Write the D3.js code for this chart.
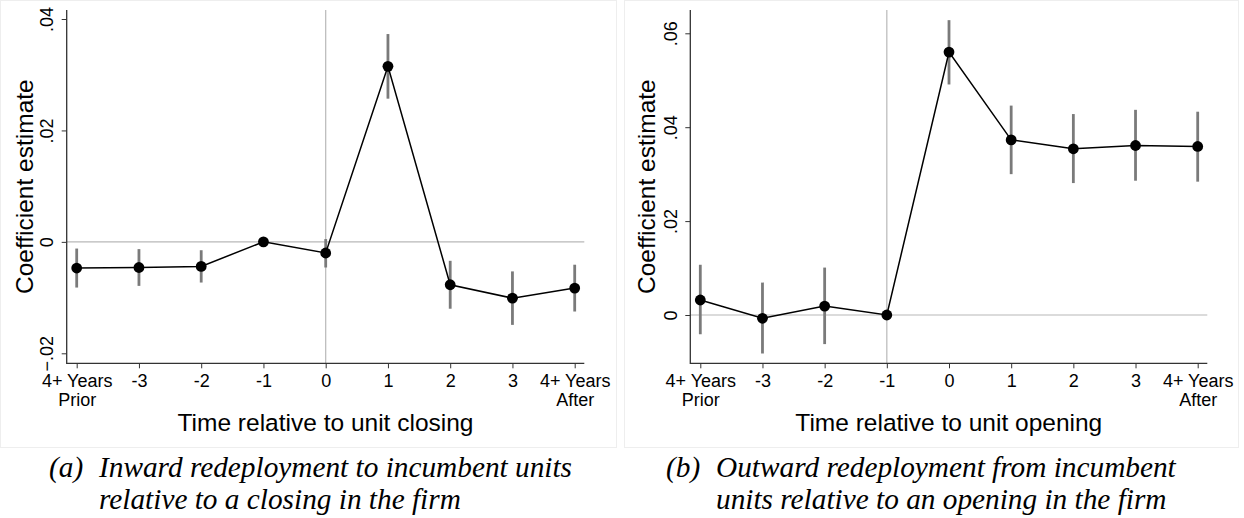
<!DOCTYPE html>
<html>
<head>
<meta charset="utf-8">
<script src="https://cdn.jsdelivr.net/npm/d3@7"></script>
<style>
  body { margin: 0; background: #fff; }
  svg { display: block; }
  .tick text { font-family: "Liberation Sans", Arial, sans-serif; fill: #000; }
</style>
</head>
<body>
<div id="container"></div>
<script>
// event-time categories (shared by both panels)
const categories = ["4+ Years|Prior", "-3", "-2", "-1", "0", "1", "2", "3", "4+ Years|After"];

// panel (a): closing
const closingEst = [-0.0047, -0.0046, -0.0044, 0, -0.0020, 0.0315, -0.0077, -0.0101, -0.0083];
const closingLo  = [-0.0082, -0.0079, -0.0073, null, -0.0046, 0.0257, -0.0120, -0.0149, -0.0125];
const closingHi  = [-0.0012, -0.0013, -0.0015, null, 0.0005, 0.0373, -0.0034, -0.0053, -0.0041];
const closingTicks = [-0.02, 0, 0.02, 0.04];

// panel (b): opening
const openingEst = [0.0032, -0.0007, 0.0019, 0, 0.0560, 0.0373, 0.0354, 0.0361, 0.0359];
const openingLo  = [-0.0041, -0.0082, -0.0062, null, 0.0491, 0.0300, 0.0281, 0.0286, 0.0284];
const openingHi  = [0.0107, 0.0069, 0.0101, null, 0.0628, 0.0446, 0.0428, 0.0437, 0.0433];
const openingTicks = [0, 0.02, 0.04, 0.06];

const W = 1244, H = 518;
const sans = '"Liberation Sans", Arial, Helvetica, sans-serif';
const serif = '"Liberation Serif", "Times New Roman", serif';

const svg = d3.select("#container").append("svg")
  .attr("width", W)
  .attr("height", H);

const fmt = d => d === 0 ? "0" : d3.format(".2f")(d).replace("0.", ".");

function drawPanel(p) {
  // faint frame of the graph region
  svg.append("rect")
    .attr("x", p.frame[0] + 0.5).attr("y", 0.5)
    .attr("width", p.frame[1] - p.frame[0]).attr("height", p.frame[2])
    .attr("fill", "#fff")
    .attr("stroke", "#eeeeee");

  const x = d3.scalePoint()
    .domain(categories)
    .range([p.firstX, p.lastX]);

  const y = d3.scaleLinear()
    .domain(d3.extent(p.ticks))
    .range(p.yRange);

  const g = svg.append("g");

  // reference lines
  g.append("line")
    .attr("x1", p.left).attr("x2", p.right)
    .attr("y1", y(0)).attr("y2", y(0))
    .attr("stroke", "#b8b8b8").attr("stroke-width", 1.2);

  g.append("line")
    .attr("x1", x(p.eventCat)).attr("x2", x(p.eventCat))
    .attr("y1", p.top).attr("y2", p.bottom)
    .attr("stroke", "#b8b8b8").attr("stroke-width", 1.2);

  // y axis
  const yAxis = g.append("g")
    .attr("transform", `translate(${p.left},0)`)
    .call(d3.axisLeft(y).tickValues(p.ticks).tickFormat(fmt).tickSize(5).tickSizeOuter(0));
  yAxis.select(".domain").remove();
  yAxis.selectAll(".tick line").attr("stroke", "#333");
  yAxis.selectAll(".tick text")
    .attr("x", 0).attr("dy", null)
    .attr("text-anchor", "middle")
    .attr("transform", "translate(-13.5,0) rotate(-90)")
    .style("font-size", "18px");

  // x axis
  const xAxis = g.append("g")
    .attr("transform", `translate(0,${p.bottom})`)
    .call(d3.axisBottom(x).tickSize(5).tickSizeOuter(0));
  xAxis.select(".domain").remove();
  xAxis.selectAll(".tick line").attr("stroke", "#333");
  xAxis.selectAll(".tick text").each(function(d) {
    const t = d3.select(this).text("").attr("y", 0).attr("dy", null)
      .style("font-size", "18px");
    d.split("|").forEach((s, i) => {
      t.append("tspan").attr("x", 0).attr("y", 23.5 + i * 19).text(s);
    });
  });

  // axis lines (L shape)
  g.append("path")
    .attr("d", `M${p.left},${p.top}V${p.bottom}H${p.right}`)
    .attr("fill", "none")
    .attr("stroke", "#333")
    .attr("stroke-width", 1.3);

  // confidence intervals
  const idx = d3.range(categories.length).filter(i => p.lo[i] !== null);
  g.selectAll(".ci").data(idx).join("line")
    .attr("class", "ci")
    .attr("x1", i => x(categories[i])).attr("x2", i => x(categories[i]))
    .attr("y1", i => y(p.lo[i])).attr("y2", i => y(p.hi[i]))
    .attr("stroke", "#7a7a7a")
    .attr("stroke-width", 2.8);

  // estimates
  const line = d3.line()
    .x((d, i) => x(categories[i]))
    .y(d => y(d));

  g.append("path")
    .datum(p.est)
    .attr("d", line)
    .attr("fill", "none")
    .attr("stroke", "#000")
    .attr("stroke-width", 1.5);

  g.selectAll(".pt").data(p.est).join("circle")
    .attr("class", "pt")
    .attr("cx", (d, i) => x(categories[i]))
    .attr("cy", d => y(d))
    .attr("r", 5.4)
    .attr("fill", "#000");

  // titles
  svg.append("text")
    .attr("transform", `translate(${p.yTitleX},${(p.top + p.bottom) / 2}) rotate(-90)`)
    .attr("text-anchor", "middle")
    .style("font-family", sans)
    .style("font-size", "24.5px")
    .text("Coefficient estimate");

  svg.append("text")
    .attr("x", (p.left + p.right) / 2)
    .attr("y", 430.5)
    .attr("text-anchor", "middle")
    .style("font-family", sans)
    .style("font-size", "24.5px")
    .text(p.xTitle);

  // caption
  const cap = svg.append("g")
    .style("font-family", serif)
    .style("font-style", "italic")
    .style("font-size", "29.3px");
  cap.append("text").attr("x", p.capX).attr("y", 476.5).text(p.capLabel);
  p.capLines.forEach((s, i) => {
    cap.append("text").attr("x", p.capTextX).attr("y", 476.5 + i * 32).text(s);
  });
}

drawPanel({
  frame: [0, 616, 447],
  left: 66.7, right: 584.3, top: 10, bottom: 363.3,
  firstX: 76.7, lastX: 574.7,
  ticks: closingTicks, yRange: [353.3, 19],
  est: closingEst, lo: closingLo, hi: closingHi,
  eventCat: "0",
  yTitleX: 33,
  xTitle: "Time relative to unit closing",
  capX: 49, capTextX: 99, capLabel: "(a)",
  capLines: ["Inward redeployment to incumbent units", "relative to a closing in the firm"]
});

drawPanel({
  frame: [624, 1238, 447],
  left: 690.3, right: 1207.3, top: 10, bottom: 363.3,
  firstX: 700.3, lastX: 1197.7,
  ticks: openingTicks, yRange: [315, 33.3],
  est: openingEst, lo: openingLo, hi: openingHi,
  eventCat: "-1",
  yTitleX: 655,
  xTitle: "Time relative to unit opening",
  capX: 666, capTextX: 716, capLabel: "(b)",
  capLines: ["Outward redeployment from incumbent", "units relative to an opening in the firm"]
});
</script>
</body>
</html>
